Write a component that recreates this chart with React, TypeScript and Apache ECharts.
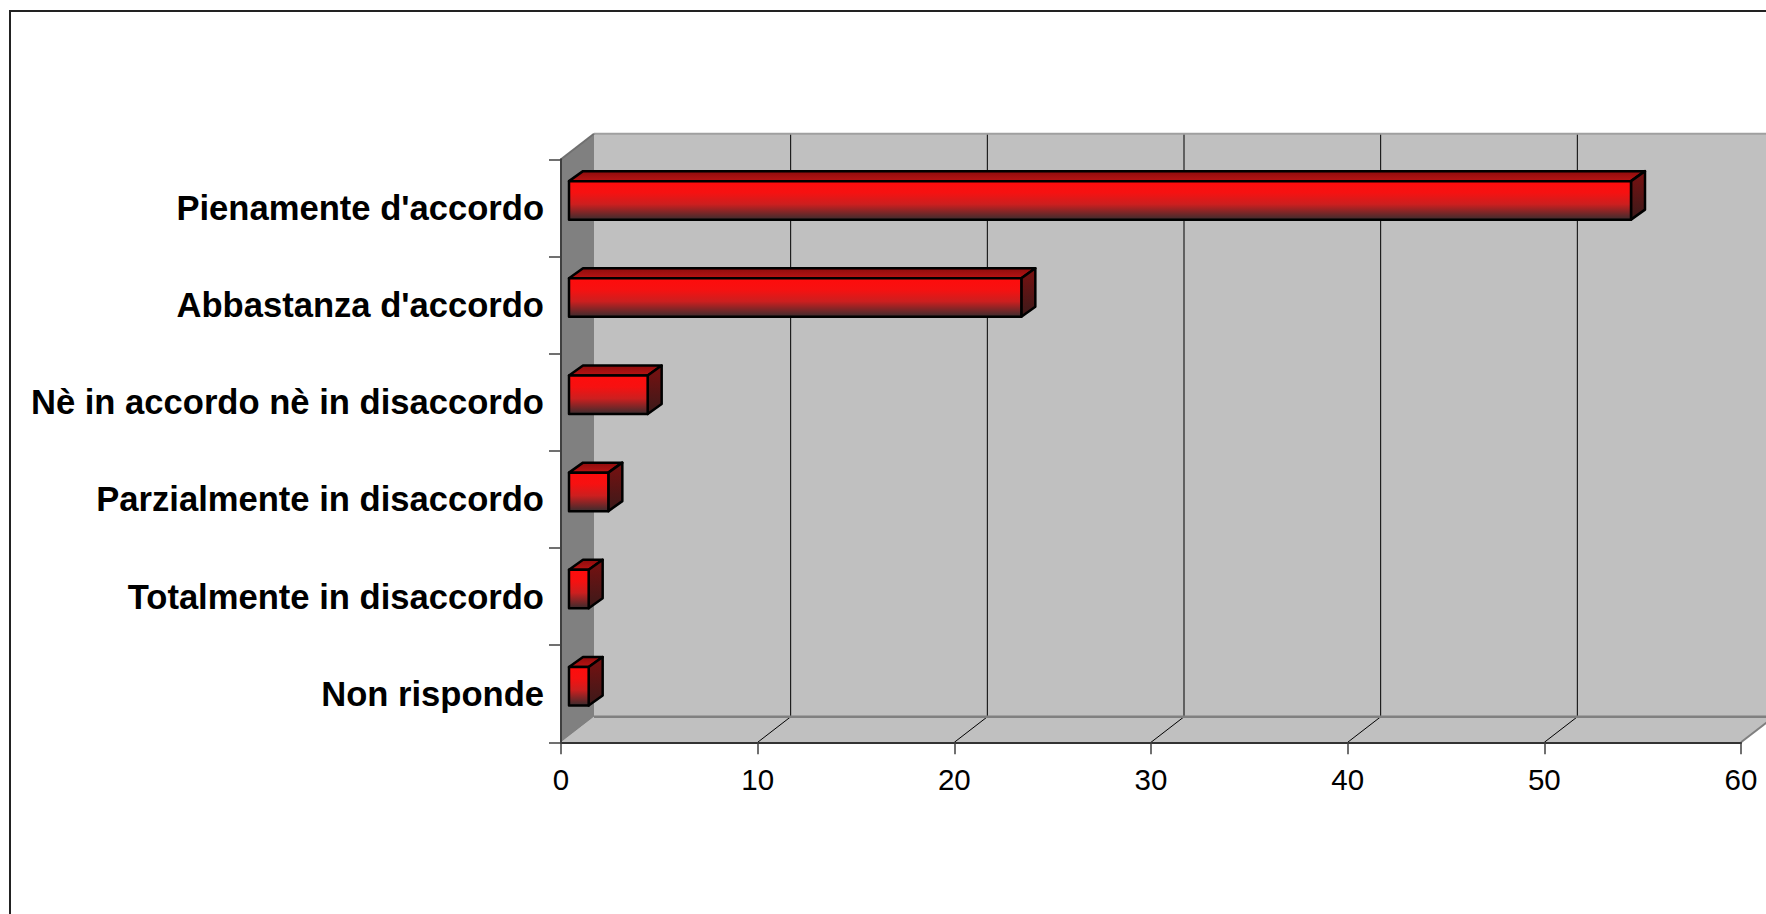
import React, { useEffect, useRef } from "react";
import * as echarts from "echarts";

const categories = [
  "Pienamente d'accordo",
  "Abbastanza d'accordo",
  "Nè in accordo nè in disaccordo",
  "Parzialmente in disaccordo",
  "Totalmente in disaccordo",
  "Non risponde",
];
const values = [54, 23, 4, 2, 1, 1];
const xTicks = [0, 10, 20, 30, 40, 50, 60];

const FONT = "'Liberation Sans', Arial, Helvetica, sans-serif";

export default function App() {
  const ref = useRef<HTMLDivElement>(null);

  useEffect(() => {
    if (!ref.current) return;
    const chart = echarts.init(ref.current, undefined, { renderer: "svg" });

    const WALL_DX = 33;
    const WALL_DY = -25.5;

    const frontGrad = new echarts.graphic.LinearGradient(0, 0, 0, 1, [
      { offset: 0, color: "#ff0c0c" },
      { offset: 0.3, color: "#f61111" },
      { offset: 0.6, color: "#cc1f1f" },
      { offset: 1, color: "#3a2c2e" },
    ]);
    const topGrad = new echarts.graphic.LinearGradient(0, 1, 0, 0, [
      { offset: 0, color: "#b81414" },
      { offset: 1, color: "#8e0c0c" },
    ]);
    const sideGrad = new echarts.graphic.LinearGradient(0, 0, 0, 1, [
      { offset: 0, color: "#7a1010" },
      { offset: 1, color: "#3a1a1a" },
    ]);

    const option: any = {
      animation: false,
      backgroundColor: "#ffffff",
      textStyle: { fontFamily: FONT },
      grid: { left: 561, top: 159.3, width: 1180, height: 583, containLabel: false },
      graphic: [
        {
          type: "rect",
          silent: true,
          z: -10,
          shape: { x: 10, y: 11, width: 2400, height: 2400 },
          style: { fill: "none", stroke: "#222", lineWidth: 2 },
        },
      ],
      xAxis: {
        type: "value",
        min: 0,
        max: 60,
        interval: 10,
        z: 10,
        axisLine: { show: true, lineStyle: { color: "#333", width: 2 } },
        axisTick: { show: true, length: 12, lineStyle: { color: "#404040", width: 1.5 } },
        axisLabel: { fontSize: 29.5, color: "#000", margin: 22, fontFamily: FONT },
        splitLine: { show: false },
      },
      yAxis: {
        type: "category",
        inverse: true,
        data: categories,
        z: 10,
        axisLine: { show: true, lineStyle: { color: "#404040", width: 2 } },
        axisTick: { show: true, length: 12, lineStyle: { color: "#404040", width: 1.5 } },
        axisLabel: {
          fontSize: 34.6,
          fontWeight: "bold",
          color: "#000",
          margin: 17,
          fontFamily: FONT,
        },
        splitLine: { show: false },
      },
      series: [
        {
          type: "custom",
          z: 1,
          clip: false,
          silent: true,
          data: [[0, 0]],
          encode: { x: 0, y: 1 },
          renderItem: (params: any, api: any) => {
            const cs = params.coordSys;
            const L = cs.x;
            const T = cs.y;
            const R = cs.x + cs.width;
            const B = cs.y + cs.height;
            const children: any[] = [];
            children.push({
              type: "polygon",
              shape: {
                points: [
                  [L + WALL_DX, T + WALL_DY],
                  [R + WALL_DX + 60, T + WALL_DY],
                  [R + WALL_DX + 60, B + WALL_DY],
                  [L + WALL_DX, B + WALL_DY],
                ],
              },
              style: { fill: "#c0c0c0", stroke: "none" },
            });
            children.push({
              type: "polygon",
              shape: {
                points: [
                  [L, B],
                  [L + WALL_DX, B + WALL_DY],
                  [R + WALL_DX, B + WALL_DY],
                  [R, B],
                ],
              },
              style: { fill: "#c0c0c0", stroke: "none" },
            });
            children.push({
              type: "polygon",
              shape: {
                points: [
                  [L, T],
                  [L + WALL_DX, T + WALL_DY],
                  [L + WALL_DX, B + WALL_DY],
                  [L, B],
                ],
              },
              style: { fill: "#808080", stroke: "none" },
            });
            xTicks.forEach((t) => {
              const x = api.coord([t, 0])[0];
              if (t > 0) {
                children.push({
                  type: "line",
                  shape: { x1: x + WALL_DX, y1: T + WALL_DY, x2: x + WALL_DX, y2: B + WALL_DY },
                  style: { stroke: "#000", lineWidth: 1 },
                });
                children.push({
                  type: "line",
                  shape: { x1: x, y1: B, x2: x + WALL_DX, y2: B + WALL_DY },
                  style: { stroke: t === 60 ? "#808080" : "#000", lineWidth: t === 60 ? 2 : 1 },
                });
              }
            });
            children.push({
              type: "line",
              shape: { x1: L + WALL_DX, y1: T + WALL_DY, x2: R + WALL_DX + 60, y2: T + WALL_DY },
              style: { stroke: "#a0a0a0", lineWidth: 2 },
            });
            children.push({
              type: "line",
              shape: { x1: L + WALL_DX, y1: B + WALL_DY, x2: R + WALL_DX + 60, y2: B + WALL_DY },
              style: { stroke: "#808080", lineWidth: 2.5 },
            });
            children.push({
              type: "line",
              shape: { x1: L, y1: T, x2: L + WALL_DX, y2: T + WALL_DY },
              style: { stroke: "#707070", lineWidth: 2 },
            });
            return { type: "group", children };
          },
        },
        {
          type: "custom",
          z: 5,
          clip: false,
          data: values.map((v, i) => [v, i]),
          encode: { x: 0, y: 1 },
          renderItem: (params: any, api: any) => {
            const v = api.value(0);
            const idx = api.value(1);
            const p0 = api.coord([0, idx]);
            const p1 = api.coord([v, idx]);
            const ox = 8;
            const oy = -7.5;
            const h = 38.5;
            const dx = 14;
            const dy = -10;
            const x0 = p0[0] + ox;
            const x1 = p1[0] + ox;
            const yT = p0[1] + oy - h / 2;
            const yB = yT + h;
            const stroke = { stroke: "#000", lineWidth: 2.5, lineJoin: "round" };
            return {
              type: "group",
              children: [
                {
                  type: "polygon",
                  shape: { points: [[x0, yT], [x0 + dx, yT + dy], [x1 + dx, yT + dy], [x1, yT]] },
                  style: { fill: topGrad, ...stroke },
                },
                {
                  type: "polygon",
                  shape: { points: [[x1, yT], [x1 + dx, yT + dy], [x1 + dx, yB + dy], [x1, yB]] },
                  style: { fill: sideGrad, ...stroke },
                },
                {
                  type: "rect",
                  shape: { x: x0, y: yT, width: x1 - x0, height: h },
                  style: { fill: frontGrad, ...stroke },
                },
              ],
            };
          },
        },
      ],
    };

    chart.setOption(option);
    return () => chart.dispose();
  }, []);

  return (
    <div
      ref={ref}
      style={{ position: "fixed", left: 0, top: 0, width: 1766, height: 914, background: "#fff" }}
    />
  );
}
